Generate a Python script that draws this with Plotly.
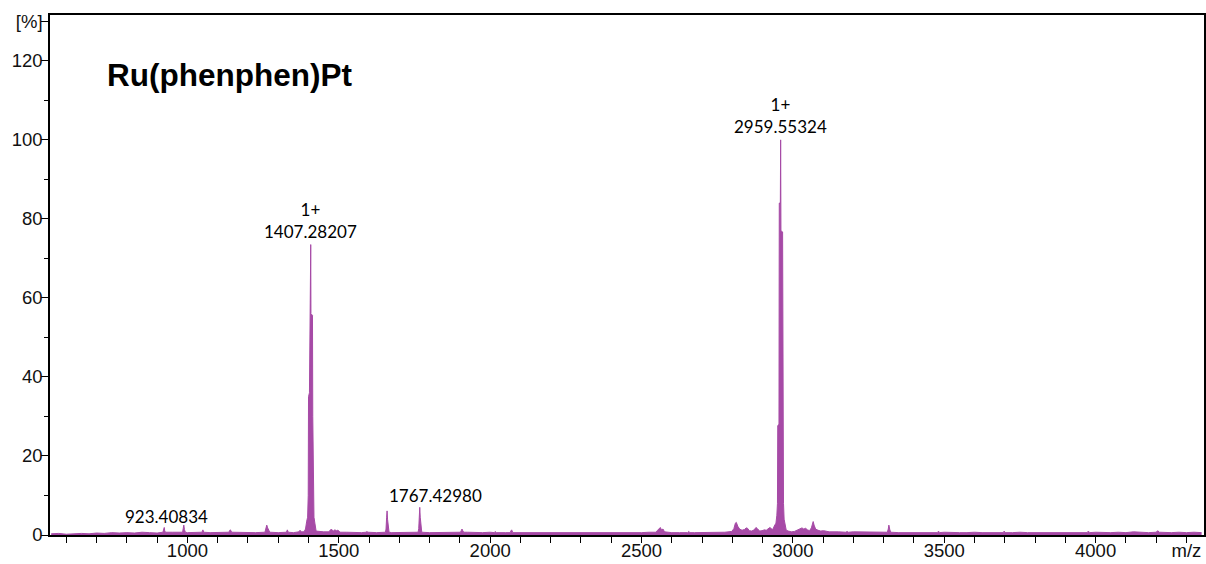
import plotly.graph_objects as go

# ---- baseline noise, relative intensity (%) every 25 m/z from 550 to 4350 ----
baseline_mz = list(range(550, 4351, 25))
baseline_int = [
    0.3, 0.4, 0.2, 0.3, 0.4, 0.3, 0.5, 0.4, 0.6, 0.5,
    0.6, 0.5, 0.7, 0.6, 0.5, 0.6, 0.7, 0.6, 0.6, 0.7,
    0.7, 0.6, 0.6, 0.7, 0.6, 0.6, 0.7, 0.6, 0.6, 0.7,
    0.6, 0.7, 0.6, 0.8, 0.7, 0.7, 0.8, 0.9, 0.8, 0.7,
    0.6, 0.6, 0.7, 0.6, 0.6, 0.6, 0.6, 0.6, 0.6, 0.6,
    0.6, 0.6, 0.7, 0.6, 0.6, 0.7, 0.6, 0.6, 0.7, 0.6,
    0.6, 0.7, 0.6, 0.6, 0.6, 0.5, 0.6, 0.6, 0.6, 0.6,
    0.6, 0.5, 0.6, 0.6, 0.5, 0.6, 0.6, 0.6, 0.6, 0.7,
    0.8, 0.7, 0.6, 0.6, 0.6, 0.6, 0.6, 0.6, 0.7, 0.7,
    0.9, 1.0, 0.9, 1.0, 1.1, 1.2, 1.3, 1.1, 1.0, 1.1,
    1.1, 1.0, 0.9, 0.9, 0.8, 0.8, 0.8, 0.8, 0.7, 0.7,
    0.7, 0.7, 0.6, 0.6, 0.6, 0.6, 0.6, 0.6, 0.7, 0.6,
    0.6, 0.6, 0.7, 0.6, 0.6, 0.6, 0.6, 0.6, 0.7, 0.6,
    0.6, 0.6, 0.6, 0.6, 0.6, 0.7, 0.6, 0.6, 0.7, 0.6,
    0.6, 0.7, 0.6, 0.8, 0.7, 0.6, 0.7, 0.6, 0.6, 0.7,
    0.6, 0.7, 0.6,
]

# ---- peak profiles (m/z, relative intensity %) ----
peak_mz = [
    919, 921, 923.40834, 925, 928,
    984, 986, 988, 990, 993,
    1048, 1051, 1054,
    1137, 1140, 1142, 1146,
    1256, 1259, 1262, 1265, 1268, 1272,
    1327, 1330, 1333,
    1368, 1372, 1376,
    # [M]+ cluster around 1407
    1385, 1390, 1394, 1397, 1399, 1400, 1403, 1404, 1405, 1406.5,
    1407.28207, 1408, 1413, 1414, 1416, 1418, 1421, 1425,
    1468, 1472, 1477, 1482, 1487, 1492, 1497, 1502, 1506,
    1590, 1593, 1596,
    1654, 1656, 1658, 1659.5, 1661, 1663, 1666,
    1762, 1764, 1766, 1767.42980, 1769, 1771, 1774,
    1902, 1905, 1907, 1910, 1913,
    2014, 2017, 2020,
    2066, 2069, 2071, 2075,
    2548, 2553, 2558, 2562, 2566, 2571, 2576,
    2652, 2656, 2660,
    2798, 2805, 2810, 2813, 2818, 2824, 2832, 2840, 2846, 2850,
    2856, 2864, 2872, 2878, 2883, 2890, 2898, 2906, 2912, 2918,
    2924, 2929, 2934, 2938, 2941,
    # [M]+ cluster around 2959
    2944, 2947, 2949, 2950, 2954, 2955, 2958.5, 2959.55324, 2960.5, 2966,
    2967, 2969, 2971, 2975, 2978,
    2985, 2995, 3005, 3015, 3022, 3030, 3036, 3042, 3048, 3055,
    3061, 3065, 3067, 3070, 3075, 3083, 3092, 3101, 3110, 3120,
    3175, 3179, 3183,
    3312, 3315, 3317, 3320, 3323,
    3478, 3481, 3484,
    3695, 3698, 3701,
    3972, 3976, 3980,
    4200, 4205, 4210,
]
peak_int = [
    0.7, 1.2, 1.9, 1.0, 0.7,
    0.7, 1.6, 2.5, 1.4, 0.7,
    0.7, 1.3, 0.7,
    0.7, 1.2, 1.3, 0.7,
    0.7, 1.5, 2.5, 1.8, 1.1, 0.7,
    0.7, 1.3, 0.7,
    0.8, 1.2, 0.8,
    0.8, 1.5, 3.5, 4.5, 10.0, 35.0, 36.0, 50.0, 66.0, 70.0,
    73.5, 56.0, 55.6, 30.0, 10.0, 4.5, 3.0, 1.0,
    0.8, 1.3, 1.4, 1.0, 1.3, 1.1, 1.2, 0.9, 0.7,
    0.7, 0.9, 0.7,
    0.7, 1.5, 4.5, 6.1, 4.0, 1.5, 0.7,
    0.7, 1.6, 5.0, 7.0, 4.5, 1.8, 0.7,
    0.7, 1.2, 1.5, 1.0, 0.7,
    0.6, 0.9, 0.6,
    0.6, 1.1, 1.3, 0.6,
    0.7, 1.2, 1.6, 1.9, 1.3, 1.5, 0.8,
    0.6, 0.9, 0.6,
    0.9, 1.6, 3.0, 3.2, 2.2, 1.5, 1.2, 1.4, 1.8, 1.7,
    1.1, 1.0, 1.3, 1.9, 1.6, 1.0, 1.1, 1.3, 1.2, 1.5,
    1.9, 1.6, 1.4, 2.2, 2.6,
    3.0, 5.0, 8.0, 27.7, 28.0, 84.0, 84.0, 100.0, 77.0, 76.7,
    30.0, 8.0, 4.0, 2.2, 1.2,
    1.0, 0.8, 0.9, 1.3, 1.6, 1.8, 1.5, 1.7, 1.3, 1.1,
    1.8, 3.0, 3.4, 2.5, 1.5, 1.2, 1.0, 1.1, 0.9, 0.8,
    0.7, 0.9, 0.7,
    0.7, 1.5, 2.5, 1.4, 0.7,
    0.6, 1.0, 0.6,
    0.6, 1.0, 0.6,
    0.6, 1.0, 0.6,
    0.7, 1.1, 0.7,
]

# ---- annotated peaks ----
label_mz = [923.40834, 1407.28207, 1767.42980, 2959.55324]
label_int = [1.9, 73.5, 7.0, 100.0]
label_text = ["923.40834", "1+<br>1407.28207", "1767.42980", "1+<br>2959.55324"]
label_xshift = [2, 0, 16, 0]
label_yshift = [-2, 1, -1, 1]

# ---- axis ticks ----
x_major = [1000, 1500, 2000, 2500, 3000, 3500, 4000, 4300]
x_major_text = ["1000", "1500", "2000", "2500", "3000", "3500", "4000", "m/z"]
x_minor = [v for v in range(600, 4301, 100) if v not in x_major]
y_major = [0, 20, 40, 60, 80, 100, 120, 130]
y_major_text = ["0", "20", "40", "60", "80", "100", "120", "[%]"]
y_minor = [10, 30, 50, 70, 90, 110]

# merge baseline with peak profiles, dropping baseline samples inside peaks
points = list(zip(peak_mz, peak_int))
for bx, by in zip(baseline_mz, baseline_int):
    if all(abs(bx - px) > 6 for px in peak_mz):
        points.append((bx, by))
points.sort()
spec_x = [p[0] for p in points]
spec_y = [p[1] for p in points]

PURPLE = "#A64AA6"
TICK_FONT = dict(family="Liberation Sans, Arial, sans-serif", size=18.5, color="#111111")

fig = go.Figure()
fig.add_trace(go.Scatter(
    x=spec_x, y=spec_y, mode="lines",
    line=dict(color=PURPLE, width=1),
    fill="tozeroy", fillcolor=PURPLE,
    hoverinfo="x+y", showlegend=False,
))

for mz, it, txt, xs, ys in zip(label_mz, label_int, label_text, label_xshift, label_yshift):
    fig.add_annotation(
        x=mz, y=it, text=txt, showarrow=False,
        xanchor="center", yanchor="bottom", yshift=ys, xshift=xs,
        font=dict(family="Lato, Carlito, sans-serif", size=17, color="#000000"),
    )

fig.add_annotation(
    xref="paper", yref="paper", x=0.0475, y=0.885,
    xanchor="left", yanchor="middle", showarrow=False,
    text="<b>Ru(phenphen)Pt</b>",
    font=dict(family="Liberation Sans, Arial, sans-serif", size=31.5, color="#000000"),
)

fig.update_xaxes(
    range=[546, 4358], showgrid=False, zeroline=False, automargin=False,
    showline=True, linecolor="#000000", linewidth=1.5, mirror=True,
    ticks="outside", ticklen=6, tickwidth=1.2, tickcolor="#000000",
    tickmode="array", tickvals=x_major, ticktext=x_major_text,
    tickfont=TICK_FONT, ticklabelstandoff=-8,
    minor=dict(tickmode="array", tickvals=x_minor, ticks="outside",
               ticklen=6, tickwidth=1.2, tickcolor="#000000"),
)
fig.update_yaxes(
    range=[0, 131.6], showgrid=False, zeroline=False, automargin=False,
    showline=True, linecolor="#000000", linewidth=1.5, mirror=True,
    ticks="outside", ticklen=7, tickwidth=1.2, tickcolor="#000000",
    tickmode="array", tickvals=y_major, ticktext=y_major_text,
    tickfont=TICK_FONT, ticklabelstandoff=-5,
    minor=dict(tickmode="array", tickvals=y_minor, ticks="outside",
               ticklen=4, tickwidth=1.2, tickcolor="#000000"),
)

fig.update_layout(
    width=1206, height=564,
    margin=dict(l=50, r=2, t=15, b=29),
    paper_bgcolor="#ffffff", plot_bgcolor="#ffffff",
)

fig.write_html("out.html", include_plotlyjs=True, full_html=True,
               config=dict(displayModeBar=False))
